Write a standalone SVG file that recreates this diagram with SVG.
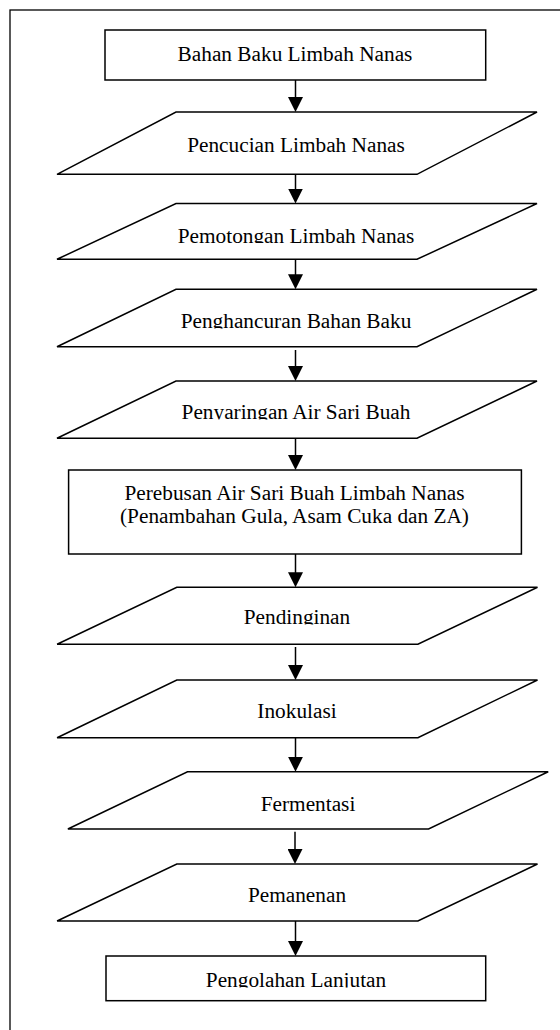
<svg xmlns="http://www.w3.org/2000/svg" width="560" height="1030" viewBox="0 0 560 1030">
<style>
.frame{fill:none;stroke:#000;stroke-width:1.3}
.shape{fill:#fff;stroke:#000;stroke-width:1.5}
.lbl{font-family:"Liberation Serif","Times New Roman",serif;font-size:21.3px;fill:#000;text-anchor:middle}
.conn line{stroke:#000;stroke-width:1.5}
</style>
<defs>
<marker id="ah" viewBox="0 0 15 15" refX="5" refY="7.5" markerWidth="15" markerHeight="15" markerUnits="userSpaceOnUse" orient="auto">
<path d="M0,0 L15,7.5 L0,15 Z" fill="#000"/>
</marker>
<clipPath id="c2" clipPathUnits="userSpaceOnUse"><rect x="0" y="200" width="560" height="43"/></clipPath>
<clipPath id="c3" clipPathUnits="userSpaceOnUse"><rect x="0" y="286" width="560" height="42.5"/></clipPath>
<clipPath id="c4" clipPathUnits="userSpaceOnUse"><rect x="0" y="378" width="560" height="41.5"/></clipPath>
<clipPath id="c5" clipPathUnits="userSpaceOnUse"><rect x="0" y="584" width="560" height="40.5"/></clipPath>
<clipPath id="c10" clipPathUnits="userSpaceOnUse"><rect x="0" y="958" width="560" height="29.5"/></clipPath>
</defs>
<rect class="frame" x="10" y="10" width="570" height="1040"/>
<g class="conn" id="connectors">
<line x1="295.5" y1="80" x2="295.5" y2="102" marker-end="url(#ah)"/>
<line x1="295.5" y1="174.3" x2="295.5" y2="193.5" marker-end="url(#ah)"/>
<line x1="295.5" y1="259.3" x2="295.5" y2="279.3" marker-end="url(#ah)"/>
<line x1="295.5" y1="350" x2="295.5" y2="371" marker-end="url(#ah)"/>
<line x1="295.5" y1="438.3" x2="295.5" y2="460" marker-end="url(#ah)"/>
<line x1="295.5" y1="554" x2="295.5" y2="577.3" marker-end="url(#ah)"/>
<line x1="295.5" y1="647" x2="295.5" y2="670" marker-end="url(#ah)"/>
<line x1="295.5" y1="737.7" x2="295.5" y2="761.7" marker-end="url(#ah)"/>
<line x1="295" y1="831.7" x2="295" y2="854" marker-end="url(#ah)"/>
<line x1="295.5" y1="921" x2="295.5" y2="946" marker-end="url(#ah)"/>
</g>
<g id="n1">
<rect class="shape" x="105" y="30" width="380.7" height="50"/>
<text class="lbl" x="295" y="61">Bahan Baku Limbah Nanas</text>
</g>
<g id="n2">
<polygon class="shape" points="176,112 537,112 417,174.3 57,174.3"/>
<text class="lbl" x="296" y="152">Pencucian Limbah Nanas</text>
</g>
<g id="n3">
<polygon class="shape" points="176,203.5 537,203.5 417,259.3 57,259.3"/>
<text class="lbl" x="296" y="242.6" clip-path="url(#c2)">Pemotongan Limbah Nanas</text>
</g>
<g id="n4">
<polygon class="shape" points="176,289.3 537,289.3 417,346.7 57,346.7"/>
<text class="lbl" x="296" y="327.5" clip-path="url(#c3)">Penghancuran Bahan Baku</text>
</g>
<g id="n5">
<polygon class="shape" points="176,381 537,381 417,438.3 57,438.3"/>
<text class="lbl" x="296" y="419" clip-path="url(#c4)">Penyaringan Air Sari Buah</text>
</g>
<g id="n6">
<rect class="shape" x="68.6" y="470" width="452.8" height="84"/>
<text class="lbl" x="294.5" y="500">Perebusan Air Sari Buah Limbah Nanas</text>
<text class="lbl" x="294.5" y="523.3">(Penambahan Gula, Asam Cuka dan ZA)</text>
</g>
<g id="n7">
<polygon class="shape" points="176.8,587.3 537.5,587.3 417.9,644.3 57.1,644.3"/>
<text class="lbl" x="297" y="624" clip-path="url(#c5)">Pendinginan</text>
</g>
<g id="n8">
<polygon class="shape" points="176.8,680 537.5,680 417.9,737.7 57.1,737.7"/>
<text class="lbl" x="297" y="718.3">Inokulasi</text>
</g>
<g id="n9">
<polygon class="shape" points="187.5,771.7 548.2,771.7 428.6,829 67.9,829"/>
<text class="lbl" x="308" y="810.7">Fermentasi</text>
</g>
<g id="n10">
<polygon class="shape" points="176.8,864 537.5,864 417.9,921 57.1,921"/>
<text class="lbl" x="297" y="901.7">Pemanenan</text>
</g>
<g id="n11">
<rect class="shape" x="106" y="956" width="379.7" height="44.7"/>
<text class="lbl" x="296" y="986.7" clip-path="url(#c10)">Pengolahan Lanjutan</text>
</g>
</svg>
